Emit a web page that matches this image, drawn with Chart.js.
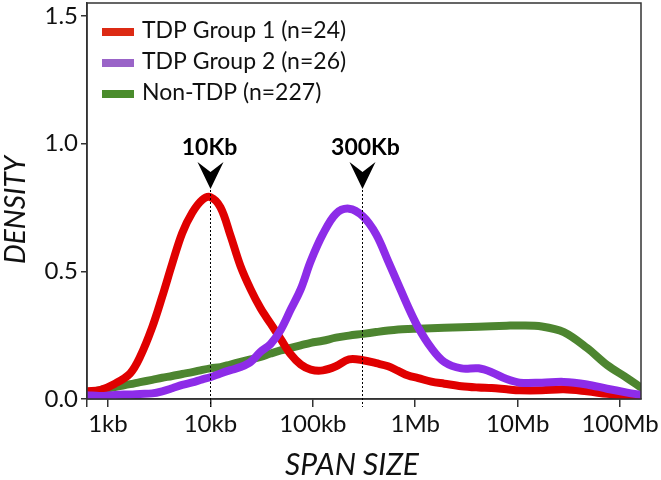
<!DOCTYPE html>
<html>
<head>
<meta charset="utf-8">
<script src="https://cdn.jsdelivr.net/npm/chart.js@4/dist/chart.umd.min.js"></script>
<style>
html,body{margin:0;padding:0;background:#fff;}
#wrap{width:661px;height:480px;}
</style>
</head>
<body>
<div id="wrap"><canvas id="c" width="661" height="480"></canvas></div>
<script>
// Span sizes (bp) at which densities were read
const spanSizes = [624, 836, 1170, 1645, 2060, 2700, 3380, 4240, 5310, 6660, 8350, 10000,
  12540, 15700, 19680, 24660, 30900, 38730, 48530, 60810, 76200, 95500, 125300, 167900,
  225200, 309000, 414700, 543500, 681100, 853500, 1069000, 1434000, 1923000, 2824000,
  4148000, 5560000, 7800000, 10470000, 17190000, 28230000, 47450000, 74590000, 117200000, 160000000];

const tdpGroup1 = [0.03, 0.035, 0.06, 0.10, 0.165, 0.28, 0.40, 0.53, 0.65, 0.73, 0.78, 0.79,
  0.75, 0.64, 0.52, 0.43, 0.355, 0.295, 0.235, 0.175, 0.135, 0.115, 0.112, 0.128,
  0.155, 0.152, 0.14, 0.128, 0.11, 0.092, 0.082, 0.068, 0.06, 0.05,
  0.045, 0.043, 0.038, 0.034, 0.034, 0.038, 0.03, 0.02, 0.012, 0.008];

const tdpGroup2 = [0.015, 0.012, 0.016, 0.018, 0.02, 0.022, 0.03, 0.042, 0.055, 0.065, 0.077, 0.085,
  0.10, 0.113, 0.125, 0.145, 0.185, 0.215, 0.27, 0.35, 0.43, 0.54, 0.645, 0.725,
  0.745, 0.715, 0.645, 0.54, 0.45, 0.36, 0.28, 0.20, 0.145, 0.12,
  0.12, 0.105, 0.078, 0.064, 0.064, 0.067, 0.057, 0.04, 0.025, 0.016];

const nonTdp = [0.025, 0.035, 0.047, 0.058, 0.066, 0.075, 0.083, 0.09, 0.098, 0.105, 0.114, 0.12,
  0.125, 0.135, 0.145, 0.155, 0.165, 0.178, 0.19, 0.20, 0.21, 0.22, 0.228, 0.24,
  0.248, 0.255, 0.262, 0.268, 0.272, 0.274, 0.275, 0.277, 0.279, 0.281,
  0.283, 0.285, 0.287, 0.288, 0.284, 0.262, 0.20, 0.133, 0.082, 0.045];

const seriesLabels = ['TDP Group 1 (n=24)', 'TDP Group 2 (n=26)', 'Non-TDP (n=227)'];
const xTickValues = [624, 1e3, 1e4, 1e5, 1e6, 1e7, 1e8];
const xTickLabels = ['', '1kb', '10kb', '100kb', '1Mb', '10Mb', '100Mb'];
const yTickValues = [0, 0.5, 1.0, 1.5];
const markerSpans = [10000, 300000];
const markerLabels = ['10Kb', '300Kb'];

const lineColors = ['#e00000', '#8d2ce8', '#4d8530'];
const legendColors = ['#dc2a14', '#9a64c8', '#4a8c2c'];
const FONT = 'Lato, "Open Sans", sans-serif';

function toPts(vals){ return spanSizes.map((s,i)=>({x:s, y:vals[i]})); }

const overlay = {
  id: 'overlay',
  afterDatasetsDraw(chart){
    const ctx = chart.ctx, a = chart.chartArea;
    const xs = chart.scales.x;
    ctx.save();
    // box border
    ctx.strokeStyle = '#333'; ctx.lineWidth = 1.5;
    ctx.strokeRect(a.left, a.top, a.right - a.left, a.bottom - a.top);
    // markers
    markerSpans.forEach((s, i) => {
      const px = Math.round(xs.getPixelForValue(s)) + 0.5;
      ctx.setLineDash([2, 2]);
      ctx.strokeStyle = '#000'; ctx.lineWidth = 1;
      ctx.beginPath(); ctx.moveTo(px, 190); ctx.lineTo(px, a.bottom + 8); ctx.stroke();
      ctx.setLineDash([]);
      // arrowhead
      ctx.fillStyle = '#000';
      ctx.beginPath();
      ctx.moveTo(px - 13, 162);
      ctx.lineTo(px, 172);
      ctx.lineTo(px + 13, 162);
      ctx.lineTo(px, 189);
      ctx.closePath(); ctx.fill();
      ctx.font = 'bold 23px ' + FONT;
      ctx.textAlign = 'center'; ctx.textBaseline = 'alphabetic';
      ctx.fillText(markerLabels[i], px + (i === 0 ? -1 : 3), 155);
    });
    // legend
    ctx.font = '23px ' + FONT;
    ctx.textAlign = 'left'; ctx.textBaseline = 'alphabetic';
    seriesLabels.forEach((lab, i) => {
      const cy = 32 + i * 31;
      ctx.fillStyle = legendColors[i];
      ctx.fillRect(102, cy - 4, 32, 8);
      ctx.fillStyle = '#111';
      ctx.fillText(lab, 142, cy + 6);
    });
    // axis titles
    ctx.font = 'italic 30px ' + FONT;
    ctx.textAlign = 'center';
    ctx.fillStyle = '#111';
    ctx.fillText('SPAN SIZE', 352, 475);
    ctx.save();
    ctx.translate(25, 210);
    ctx.rotate(-Math.PI / 2);
    ctx.font = 'italic 28px ' + FONT;
    ctx.fillText('DENSITY', 0, 0);
    ctx.restore();
    ctx.restore();
  }
};

new Chart(document.getElementById('c'), {
  type: 'line',
  data: {
    datasets: [
      {label: seriesLabels[0], data: toPts(tdpGroup1), borderColor: lineColors[0], order: 2},
      {label: seriesLabels[1], data: toPts(tdpGroup2), borderColor: lineColors[1], order: 1},
      {label: seriesLabels[2], data: toPts(nonTdp), borderColor: lineColors[2], order: 3}
    ]
  },
  options: {
    responsive: false,
    animation: false,
    events: [],
    datasets: {line: {borderWidth: 8, pointRadius: 0, tension: 0.35, fill: false, borderCapStyle: 'round', borderJoinStyle: 'round'}},
    layout: {padding: {top: 3, right: 20, left: 0, bottom: 0}},
    plugins: {legend: {display: false}, tooltip: {enabled: false}},
    scales: {
      x: {
        type: 'logarithmic',
        min: 624, max: 160000000,
        afterBuildTicks(s){ s.ticks = xTickValues.map(v => ({value: v})); },
        afterFit(s){ s.height = 81; s.paddingLeft = 0; s.paddingRight = 0; },
        ticks: {
          autoSkip: false, maxRotation: 0, padding: 3, color: '#111',
          font: {family: FONT, size: 24},
          callback(v){ const i = xTickValues.indexOf(v); return i >= 0 ? xTickLabels[i] : ''; }
        },
        grid: {drawOnChartArea: false, drawTicks: true, tickLength: 8, color: '#333', lineWidth: 1.5},
        border: {display: true, color: '#333', width: 1.5}
      },
      y: {
        type: 'linear',
        min: 0, max: 1.55,
        afterBuildTicks(s){ s.ticks = yTickValues.map(v => ({value: v})); },
        afterFit(s){ s.width = 87; s.paddingTop = 0; s.paddingBottom = 0; },
        ticks: {
          padding: 3, color: '#111',
          font: {family: FONT, size: 24},
          callback(v){ return Number(v).toFixed(1); }
        },
        grid: {drawOnChartArea: false, drawTicks: true, tickLength: 6, color: '#333', lineWidth: 1.5},
        border: {display: true, color: '#333', width: 1.5}
      }
    }
  },
  plugins: [overlay]
});
</script>
</body>
</html>
